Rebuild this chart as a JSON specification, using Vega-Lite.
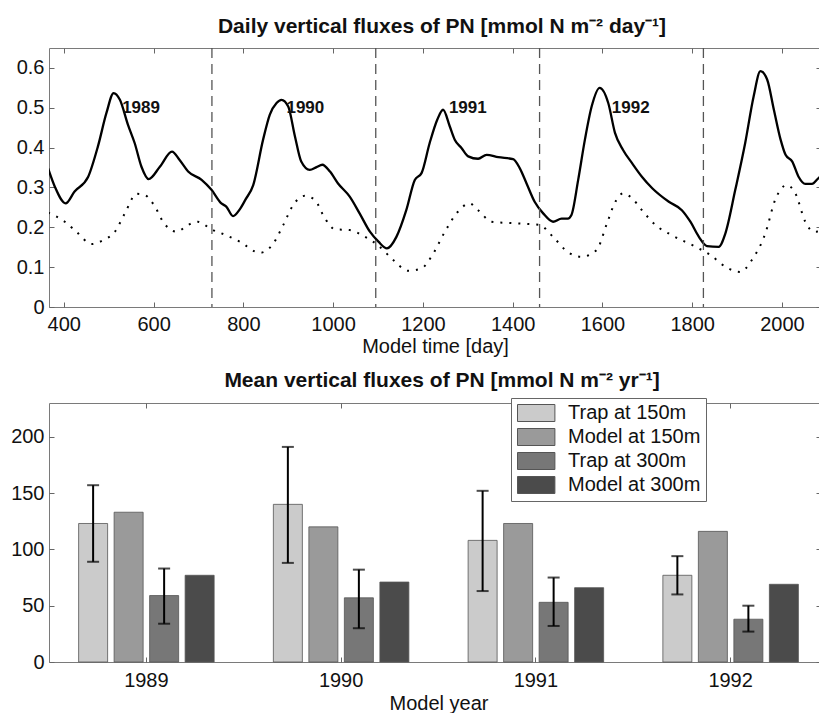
{
  "$schema": "https://vega.github.io/schema/vega-lite/v6.json",
  "autosize": {"type": "none"},
  "padding": {"left": 49, "top": 48, "right": 770, "bottom": 665},
  "background": "white",
  "bounds": "flush",
  "spacing": 96,
  "config": {
    "font": "Liberation Sans",
    "view": {"stroke": "#7a7a7a", "strokeWidth": 1},
    "axis": {"labelFont": "Liberation Sans", "labelFontSize": 20, "labelColor": "#111", "titleFont": "Liberation Sans", "titleFontSize": 20, "titleFontWeight": "normal", "titleColor": "#111", "domain": false, "grid": false, "tickColor": "#666", "tickSize": -5, "tickWidth": 1, "labelPadding": 10},
    "title": {"font": "Liberation Sans", "fontSize": 21, "fontWeight": "bold", "color": "#111", "anchor": "middle", "frame": "group"}
  },
  "datasets": {
    "daily": [
      {"day": 365, "flux": 0.348, "depth": "150m"}, {"day": 380, "flux": 0.302, "depth": "150m"}, {"day": 404, "flux": 0.26, "depth": "150m"}, {"day": 424, "flux": 0.29, "depth": "150m"}, {"day": 454, "flux": 0.326, "depth": "150m"}, {"day": 476, "flux": 0.403, "depth": "150m"}, {"day": 495, "flux": 0.487, "depth": "150m"}, {"day": 511, "flux": 0.537, "depth": "150m"}, {"day": 525, "flux": 0.52, "depth": "150m"}, {"day": 543, "flux": 0.457, "depth": "150m"}, {"day": 558, "flux": 0.411, "depth": "150m"}, {"day": 573, "flux": 0.352, "depth": "150m"}, {"day": 589, "flux": 0.321, "depth": "150m"}, {"day": 614, "flux": 0.352, "depth": "150m"}, {"day": 641, "flux": 0.39, "depth": "150m"}, {"day": 658, "flux": 0.369, "depth": "150m"}, {"day": 677, "flux": 0.34, "depth": "150m"}, {"day": 707, "flux": 0.319, "depth": "150m"}, {"day": 729, "flux": 0.294, "depth": "150m"}, {"day": 751, "flux": 0.26, "depth": "150m"}, {"day": 762, "flux": 0.252, "depth": "150m"}, {"day": 777, "flux": 0.228, "depth": "150m"}, {"day": 792, "flux": 0.245, "depth": "150m"}, {"day": 805, "flux": 0.27, "depth": "150m"}, {"day": 822, "flux": 0.306, "depth": "150m"}, {"day": 844, "flux": 0.42, "depth": "150m"}, {"day": 859, "flux": 0.483, "depth": "150m"}, {"day": 874, "flux": 0.512, "depth": "150m"}, {"day": 885, "flux": 0.52, "depth": "150m"}, {"day": 900, "flux": 0.503, "depth": "150m"}, {"day": 915, "flux": 0.428, "depth": "150m"}, {"day": 929, "flux": 0.365, "depth": "150m"}, {"day": 948, "flux": 0.344, "depth": "150m"}, {"day": 963, "flux": 0.351, "depth": "150m"}, {"day": 976, "flux": 0.357, "depth": "150m"}, {"day": 993, "flux": 0.34, "depth": "150m"}, {"day": 1011, "flux": 0.31, "depth": "150m"}, {"day": 1037, "flux": 0.277, "depth": "150m"}, {"day": 1059, "flux": 0.235, "depth": "150m"}, {"day": 1082, "flux": 0.189, "depth": "150m"}, {"day": 1101, "flux": 0.164, "depth": "150m"}, {"day": 1120, "flux": 0.147, "depth": "150m"}, {"day": 1141, "flux": 0.176, "depth": "150m"}, {"day": 1163, "flux": 0.243, "depth": "150m"}, {"day": 1182, "flux": 0.319, "depth": "150m"}, {"day": 1197, "flux": 0.336, "depth": "150m"}, {"day": 1215, "flux": 0.411, "depth": "150m"}, {"day": 1232, "flux": 0.47, "depth": "150m"}, {"day": 1245, "flux": 0.495, "depth": "150m"}, {"day": 1260, "flux": 0.453, "depth": "150m"}, {"day": 1271, "flux": 0.42, "depth": "150m"}, {"day": 1286, "flux": 0.399, "depth": "150m"}, {"day": 1301, "flux": 0.378, "depth": "150m"}, {"day": 1323, "flux": 0.372, "depth": "150m"}, {"day": 1342, "flux": 0.382, "depth": "150m"}, {"day": 1368, "flux": 0.376, "depth": "150m"}, {"day": 1401, "flux": 0.371, "depth": "150m"}, {"day": 1416, "flux": 0.348, "depth": "150m"}, {"day": 1431, "flux": 0.31, "depth": "150m"}, {"day": 1449, "flux": 0.264, "depth": "150m"}, {"day": 1468, "flux": 0.235, "depth": "150m"}, {"day": 1490, "flux": 0.214, "depth": "150m"}, {"day": 1509, "flux": 0.222, "depth": "150m"}, {"day": 1523, "flux": 0.222, "depth": "150m"}, {"day": 1531, "flux": 0.231, "depth": "150m"}, {"day": 1546, "flux": 0.319, "depth": "150m"}, {"day": 1561, "flux": 0.42, "depth": "150m"}, {"day": 1576, "flux": 0.503, "depth": "150m"}, {"day": 1594, "flux": 0.55, "depth": "150m"}, {"day": 1613, "flux": 0.512, "depth": "150m"}, {"day": 1628, "flux": 0.437, "depth": "150m"}, {"day": 1646, "flux": 0.394, "depth": "150m"}, {"day": 1666, "flux": 0.361, "depth": "150m"}, {"day": 1688, "flux": 0.327, "depth": "150m"}, {"day": 1711, "flux": 0.298, "depth": "150m"}, {"day": 1748, "flux": 0.264, "depth": "150m"}, {"day": 1777, "flux": 0.243, "depth": "150m"}, {"day": 1796, "flux": 0.214, "depth": "150m"}, {"day": 1815, "flux": 0.176, "depth": "150m"}, {"day": 1833, "flux": 0.153, "depth": "150m"}, {"day": 1859, "flux": 0.151, "depth": "150m"}, {"day": 1874, "flux": 0.185, "depth": "150m"}, {"day": 1896, "flux": 0.294, "depth": "150m"}, {"day": 1918, "flux": 0.411, "depth": "150m"}, {"day": 1937, "flux": 0.529, "depth": "150m"}, {"day": 1952, "flux": 0.592, "depth": "150m"}, {"day": 1967, "flux": 0.571, "depth": "150m"}, {"day": 1982, "flux": 0.495, "depth": "150m"}, {"day": 1997, "flux": 0.42, "depth": "150m"}, {"day": 2008, "flux": 0.382, "depth": "150m"}, {"day": 2023, "flux": 0.365, "depth": "150m"}, {"day": 2037, "flux": 0.327, "depth": "150m"}, {"day": 2052, "flux": 0.309, "depth": "150m"}, {"day": 2067, "flux": 0.309, "depth": "150m"}, {"day": 2081, "flux": 0.323, "depth": "150m"}, {"day": 2090, "flux": 0.33, "depth": "150m"},
      {"day": 365, "flux": 0.237, "depth": "300m"}, {"day": 402, "flux": 0.214, "depth": "300m"}, {"day": 428, "flux": 0.189, "depth": "300m"}, {"day": 462, "flux": 0.158, "depth": "300m"}, {"day": 488, "flux": 0.168, "depth": "300m"}, {"day": 514, "flux": 0.189, "depth": "300m"}, {"day": 536, "flux": 0.235, "depth": "300m"}, {"day": 562, "flux": 0.284, "depth": "300m"}, {"day": 580, "flux": 0.281, "depth": "300m"}, {"day": 603, "flux": 0.252, "depth": "300m"}, {"day": 621, "flux": 0.214, "depth": "300m"}, {"day": 651, "flux": 0.189, "depth": "300m"}, {"day": 677, "flux": 0.206, "depth": "300m"}, {"day": 698, "flux": 0.214, "depth": "300m"}, {"day": 729, "flux": 0.195, "depth": "300m"}, {"day": 762, "flux": 0.18, "depth": "300m"}, {"day": 792, "flux": 0.164, "depth": "300m"}, {"day": 837, "flux": 0.136, "depth": "300m"}, {"day": 866, "flux": 0.158, "depth": "300m"}, {"day": 889, "flux": 0.206, "depth": "300m"}, {"day": 911, "flux": 0.256, "depth": "300m"}, {"day": 937, "flux": 0.279, "depth": "300m"}, {"day": 959, "flux": 0.269, "depth": "300m"}, {"day": 982, "flux": 0.222, "depth": "300m"}, {"day": 1004, "flux": 0.195, "depth": "300m"}, {"day": 1037, "flux": 0.193, "depth": "300m"}, {"day": 1071, "flux": 0.176, "depth": "300m"}, {"day": 1100, "flux": 0.155, "depth": "300m"}, {"day": 1134, "flux": 0.118, "depth": "300m"}, {"day": 1167, "flux": 0.091, "depth": "300m"}, {"day": 1197, "flux": 0.097, "depth": "300m"}, {"day": 1223, "flux": 0.134, "depth": "300m"}, {"day": 1249, "flux": 0.189, "depth": "300m"}, {"day": 1278, "flux": 0.239, "depth": "300m"}, {"day": 1304, "flux": 0.26, "depth": "300m"}, {"day": 1323, "flux": 0.243, "depth": "300m"}, {"day": 1353, "flux": 0.214, "depth": "300m"}, {"day": 1405, "flux": 0.21, "depth": "300m"}, {"day": 1460, "flux": 0.206, "depth": "300m"}, {"day": 1490, "flux": 0.176, "depth": "300m"}, {"day": 1523, "flux": 0.138, "depth": "300m"}, {"day": 1553, "flux": 0.126, "depth": "300m"}, {"day": 1587, "flux": 0.143, "depth": "300m"}, {"day": 1609, "flux": 0.206, "depth": "300m"}, {"day": 1627, "flux": 0.26, "depth": "300m"}, {"day": 1646, "flux": 0.285, "depth": "300m"}, {"day": 1666, "flux": 0.273, "depth": "300m"}, {"day": 1688, "flux": 0.243, "depth": "300m"}, {"day": 1718, "flux": 0.206, "depth": "300m"}, {"day": 1755, "flux": 0.18, "depth": "300m"}, {"day": 1808, "flux": 0.151, "depth": "300m"}, {"day": 1841, "flux": 0.13, "depth": "300m"}, {"day": 1874, "flux": 0.101, "depth": "300m"}, {"day": 1907, "flux": 0.088, "depth": "300m"}, {"day": 1933, "flux": 0.118, "depth": "300m"}, {"day": 1963, "flux": 0.185, "depth": "300m"}, {"day": 1985, "flux": 0.269, "depth": "300m"}, {"day": 2011, "flux": 0.306, "depth": "300m"}, {"day": 2030, "flux": 0.285, "depth": "300m"}, {"day": 2052, "flux": 0.214, "depth": "300m"}, {"day": 2071, "flux": 0.189, "depth": "300m"}, {"day": 2090, "flux": 0.19, "depth": "300m"}
    ],
    "boundaries": [{"day": 730}, {"day": 1095}, {"day": 1460}, {"day": 1825}],
    "yearlabels": [
      {"day": 530, "flux": 0.5, "label": "1989"},
      {"day": 896, "flux": 0.5, "label": "1990"},
      {"day": 1258, "flux": 0.5, "label": "1991"},
      {"day": 1621, "flux": 0.5, "label": "1992"}
    ],
    "annual": [
      {"year": "1989", "series": "Trap at 150m", "flux": 123, "lo": 89, "hi": 157},
      {"year": "1989", "series": "Model at 150m", "flux": 133},
      {"year": "1989", "series": "Trap at 300m", "flux": 59, "lo": 34, "hi": 83},
      {"year": "1989", "series": "Model at 300m", "flux": 77},
      {"year": "1990", "series": "Trap at 150m", "flux": 140, "lo": 88, "hi": 191},
      {"year": "1990", "series": "Model at 150m", "flux": 120},
      {"year": "1990", "series": "Trap at 300m", "flux": 57, "lo": 30, "hi": 82},
      {"year": "1990", "series": "Model at 300m", "flux": 71},
      {"year": "1991", "series": "Trap at 150m", "flux": 108, "lo": 63, "hi": 152},
      {"year": "1991", "series": "Model at 150m", "flux": 123},
      {"year": "1991", "series": "Trap at 300m", "flux": 53, "lo": 32, "hi": 75},
      {"year": "1991", "series": "Model at 300m", "flux": 66},
      {"year": "1992", "series": "Trap at 150m", "flux": 77, "lo": 60, "hi": 94},
      {"year": "1992", "series": "Model at 150m", "flux": 116},
      {"year": "1992", "series": "Trap at 300m", "flux": 38, "lo": 27, "hi": 50},
      {"year": "1992", "series": "Model at 300m", "flux": 69}
    ]
  },
  "vconcat": [
    {
      "width": 772,
      "height": 259,
      "title": {"text": "Daily vertical fluxes of PN [mmol N m⁻² day⁻¹]", "offset": 10, "dx": 7},
      "resolve": {"axis": {"x": "independent", "y": "independent"}},
      "layer": [
        {
          "data": {"name": "daily"},
          "transform": [{"filter": "datum.depth === '150m'"}],
          "mark": {"type": "line", "color": "black", "strokeWidth": 2.3, "interpolate": "monotone", "clip": true},
          "encoding": {
            "x": {"field": "day", "type": "quantitative", "scale": {"domain": [367, 2087], "nice": false, "zero": false},
                  "axis": {"values": [400, 600, 800, 1000, 1200, 1400, 1600, 1800, 2000], "format": "d", "title": "Model time [day]", "labelPadding": 12, "titlePadding": 2}},
            "y": {"field": "flux", "type": "quantitative", "scale": {"domain": [0, 0.65], "nice": false},
                  "axis": {"values": [0, 0.1, 0.2, 0.3, 0.4, 0.5, 0.6], "format": "~g", "title": null}}
          }
        },
        {
          "data": {"name": "daily"},
          "transform": [{"filter": "datum.depth === '300m'"}],
          "mark": {"type": "line", "color": "black", "strokeWidth": 2, "strokeDash": [2, 7], "interpolate": "monotone", "clip": true},
          "encoding": {
            "x": {"field": "day", "type": "quantitative", "axis": null},
            "y": {"field": "flux", "type": "quantitative", "axis": null}
          }
        },
        {
          "data": {"name": "boundaries"},
          "mark": {"type": "rule", "color": "#555", "strokeWidth": 1.3, "strokeDash": [10, 6]},
          "encoding": {
            "x": {"field": "day", "type": "quantitative", "axis": null}
          }
        },
        {
          "data": {"name": "yearlabels"},
          "mark": {"type": "text", "align": "left", "baseline": "middle", "fontSize": 17, "fontWeight": "bold", "color": "#111"},
          "encoding": {
            "x": {"field": "day", "type": "quantitative",
                  "axis": {"orient": "top", "values": [400, 600, 800, 1000, 1200, 1400, 1600, 1800, 2000], "labels": false, "title": null}},
            "y": {"field": "flux", "type": "quantitative",
                  "axis": {"orient": "right", "values": [0, 0.1, 0.2, 0.3, 0.4, 0.5, 0.6], "labels": false, "title": null}},
            "text": {"field": "label"}
          }
        }
      ]
    },
    {
      "width": 772,
      "height": 259,
      "title": {"text": "Mean vertical fluxes of PN [mmol N m⁻² yr⁻¹]", "offset": 12, "dx": 7},
      "data": {"name": "annual"},
      "resolve": {"axis": {"x": "independent", "y": "independent"}},
      "layer": [
        {
          "mark": {"type": "bar", "stroke": "#555", "strokeWidth": 0.8},
          "encoding": {
            "x": {"field": "year", "type": "nominal", "scale": {"range": [0, 779], "paddingInner": 0, "paddingOuter": 0},
                  "axis": {"labelAngle": 0, "title": "Model year", "labelPadding": 13, "titlePadding": 3}},
            "xOffset": {"field": "series", "type": "nominal", "sort": ["Trap at 150m", "Model at 150m", "Trap at 300m", "Model at 300m"],
                        "scale": {"domain": ["Trap at 150m", "Model at 150m", "Trap at 300m", "Model at 300m"], "paddingInner": 0.183, "paddingOuter": 0.834}},
            "y": {"field": "flux", "type": "quantitative", "scale": {"domain": [0, 230], "nice": false},
                  "axis": {"values": [0, 50, 100, 150, 200], "title": null}},
            "color": {"field": "series", "type": "nominal",
                      "scale": {"domain": ["Trap at 150m", "Model at 150m", "Trap at 300m", "Model at 300m"], "range": ["#cbcbcb", "#9a9a9a", "#777777", "#4b4b4b"]},
                      "legend": {"orient": "none", "legendX": 462, "legendY": 350, "title": null, "labelFont": "Liberation Sans", "labelFontSize": 20, "labelColor": "#111",
                                 "symbolType": "M-1,-1H3.4V1H-1Z", "symbolSize": 289, "symbolStrokeColor": "#555", "symbolStrokeWidth": 1, "symbolOpacity": 1,
                                 "strokeColor": "#666", "fillColor": "white", "padding": 5, "rowPadding": 2, "labelOffset": 32}}
          }
        },
        {
          "transform": [{"filter": "isValid(datum.lo)"}],
          "mark": {"type": "rule", "color": "black", "strokeWidth": 2},
          "encoding": {
            "x": {"field": "year", "type": "nominal", "axis": null},
            "xOffset": {"field": "series", "type": "nominal"},
            "y": {"field": "lo", "type": "quantitative", "axis": null},
            "y2": {"field": "hi"}
          }
        },
        {
          "transform": [{"filter": "isValid(datum.lo)"}],
          "mark": {"type": "tick", "color": "black", "thickness": 2, "size": 12, "orient": "horizontal"},
          "encoding": {
            "x": {"field": "year", "type": "nominal", "axis": null},
            "xOffset": {"field": "series", "type": "nominal"},
            "y": {"field": "lo", "type": "quantitative", "axis": null}
          }
        },
        {
          "transform": [{"filter": "isValid(datum.hi)"}],
          "mark": {"type": "tick", "color": "black", "thickness": 2, "size": 12, "orient": "horizontal"},
          "encoding": {
            "x": {"field": "year", "type": "nominal",
                  "axis": {"orient": "top", "labels": false, "title": null}},
            "xOffset": {"field": "series", "type": "nominal"},
            "y": {"field": "hi", "type": "quantitative",
                  "axis": {"orient": "right", "values": [0, 50, 100, 150, 200], "labels": false, "title": null}}
          }
        }
      ]
    }
  ]
}
